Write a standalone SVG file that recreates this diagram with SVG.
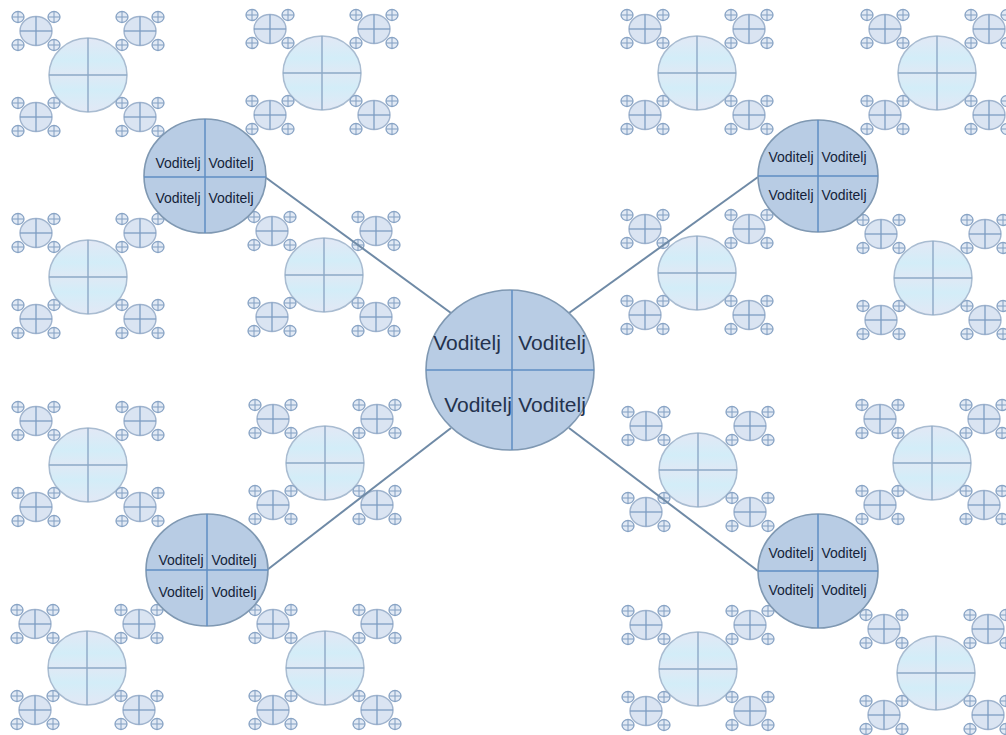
<svg xmlns="http://www.w3.org/2000/svg" xmlns:xlink="http://www.w3.org/1999/xlink" width="1006" height="735" viewBox="0 0 1006 735">
<style>
.bg{fill:#ffffff}
.tiny{fill:#e2eaf5;stroke:#89a4c5;stroke-width:1.3}
.tinyx{stroke:#89a4c5;stroke-width:1.1}
.small{fill:#dae4f2;stroke:#a0b4ce;stroke-width:1.4}
.smallx{stroke:#7d9dc2;stroke-width:1.3}
.light{fill:url(#lg);stroke:#a9bcd1;stroke-width:1.5}
.lightx{stroke:#8da8c6;stroke-width:1.4}
.main{fill:#b8cce4;stroke:#7f98b2;stroke-width:1.6}
.mainx{stroke:#5f8ec3;stroke-width:1.5}
.conn{stroke:#6f8aa6;stroke-width:2;fill:none}
.t1{font-family:"Liberation Sans",Arial,sans-serif;font-size:21px;fill:#24324d;text-anchor:middle}
.t2{font-family:"Liberation Sans",Arial,sans-serif;font-size:14px;fill:#141f3a;text-anchor:middle}
</style>
<defs>
<linearGradient id="lg" x1="0" y1="0" x2="0" y2="1">
<stop offset="0" stop-color="#e2e8f5"/>
<stop offset="0.3" stop-color="#d3edf8"/>
<stop offset="0.5" stop-color="#dfe9f5"/>
<stop offset="0.7" stop-color="#d3edf8"/>
<stop offset="1" stop-color="#e2e8f5"/>
</linearGradient>
<g id="tiny">
<ellipse class="tiny" cx="0" cy="0" rx="6" ry="5.5"/>
<line class="tinyx" x1="-6" y1="0" x2="6" y2="0"/>
<line class="tinyx" x1="0" y1="-5.5" x2="0" y2="5.5"/>
</g>
<g id="small">
<ellipse class="small" cx="0" cy="0" rx="16" ry="14.5"/>
<line class="smallx" x1="-16" y1="0" x2="16" y2="0"/>
<line class="smallx" x1="0" y1="-14.5" x2="0" y2="14.5"/>
<use xlink:href="#tiny" x="-18" y="-14"/>
<use xlink:href="#tiny" x="18" y="-14"/>
<use xlink:href="#tiny" x="-18" y="14"/>
<use xlink:href="#tiny" x="18" y="14"/>
</g>
<g id="cluster">
<ellipse class="light" cx="0" cy="0" rx="39" ry="37"/>
<line class="lightx" x1="-39" y1="0" x2="39" y2="0"/>
<line class="lightx" x1="0" y1="-37" x2="0" y2="37"/>
<use xlink:href="#small" x="-52" y="-44"/>
<use xlink:href="#small" x="52" y="-44"/>
<use xlink:href="#small" x="-52" y="42"/>
<use xlink:href="#small" x="52" y="42"/>
</g>
</defs>
<rect class="bg" x="0" y="0" width="1006" height="735"/>

<g id="clusters">
<use id="c-tl-1" xlink:href="#cluster" x="88" y="75"/>
<use id="c-tl-2" xlink:href="#cluster" x="322" y="73"/>
<use id="c-tl-3" xlink:href="#cluster" x="88" y="277"/>
<use id="c-tl-4" xlink:href="#cluster" x="324" y="275"/>
<use id="c-tr-1" xlink:href="#cluster" x="697" y="73"/>
<use id="c-tr-2" xlink:href="#cluster" x="937" y="73"/>
<use id="c-tr-3" xlink:href="#cluster" x="697" y="273"/>
<use id="c-tr-4" xlink:href="#cluster" x="933" y="278"/>
<use id="c-bl-1" xlink:href="#cluster" x="88" y="465"/>
<use id="c-bl-2" xlink:href="#cluster" x="325" y="463"/>
<use id="c-bl-3" xlink:href="#cluster" x="87" y="668"/>
<use id="c-bl-4" xlink:href="#cluster" x="325" y="668"/>
<use id="c-br-1" xlink:href="#cluster" x="698" y="470"/>
<use id="c-br-2" xlink:href="#cluster" x="932" y="463"/>
<use id="c-br-3" xlink:href="#cluster" x="698" y="669"/>
<use id="c-br-4" xlink:href="#cluster" x="936" y="673"/>
</g>

<g id="connectors">
<line class="conn" x1="451" y1="313" x2="265" y2="177"/>
<line class="conn" x1="569" y1="313" x2="758" y2="177"/>
<line class="conn" x1="451" y1="428" x2="267" y2="570"/>
<line class="conn" x1="569" y1="428" x2="758" y2="571"/>
</g>

<g id="center">
<ellipse class="main" cx="510" cy="370" rx="84" ry="80"/>
<line class="mainx" x1="426" y1="370" x2="594" y2="370"/>
<line class="mainx" x1="512" y1="290" x2="512" y2="450"/>
<text class="t1" x="467" y="350">Voditelj</text>
<text class="t1" x="552" y="350">Voditelj</text>
<text class="t1" x="478" y="412">Voditelj</text>
<text class="t1" x="552" y="412">Voditelj</text>
</g>

<g id="node-tl">
<ellipse class="main" cx="205" cy="176" rx="61" ry="57"/>
<line class="mainx" x1="144" y1="177" x2="266" y2="177"/>
<line class="mainx" x1="205" y1="119" x2="205" y2="233"/>
<text class="t2" x="178" y="168">Voditelj</text>
<text class="t2" x="231" y="168">Voditelj</text>
<text class="t2" x="178" y="203">Voditelj</text>
<text class="t2" x="231" y="203">Voditelj</text>
</g>

<g id="node-tr">
<ellipse class="main" cx="818" cy="176" rx="60" ry="56"/>
<line class="mainx" x1="758" y1="176" x2="878" y2="176"/>
<line class="mainx" x1="818" y1="120" x2="818" y2="232"/>
<text class="t2" x="791" y="162">Voditelj</text>
<text class="t2" x="844" y="162">Voditelj</text>
<text class="t2" x="791" y="200">Voditelj</text>
<text class="t2" x="844" y="200">Voditelj</text>
</g>

<g id="node-bl">
<ellipse class="main" cx="207" cy="570" rx="61" ry="56"/>
<line class="mainx" x1="146" y1="570" x2="268" y2="570"/>
<line class="mainx" x1="207" y1="514" x2="207" y2="626"/>
<text class="t2" x="181" y="565">Voditelj</text>
<text class="t2" x="234" y="565">Voditelj</text>
<text class="t2" x="181" y="597">Voditelj</text>
<text class="t2" x="234" y="597">Voditelj</text>
</g>

<g id="node-br">
<ellipse class="main" cx="818" cy="571" rx="60" ry="57"/>
<line class="mainx" x1="758" y1="571" x2="878" y2="571"/>
<line class="mainx" x1="818" y1="514" x2="818" y2="628"/>
<text class="t2" x="791" y="558">Voditelj</text>
<text class="t2" x="844" y="558">Voditelj</text>
<text class="t2" x="791" y="595">Voditelj</text>
<text class="t2" x="844" y="595">Voditelj</text>
</g>
</svg>
